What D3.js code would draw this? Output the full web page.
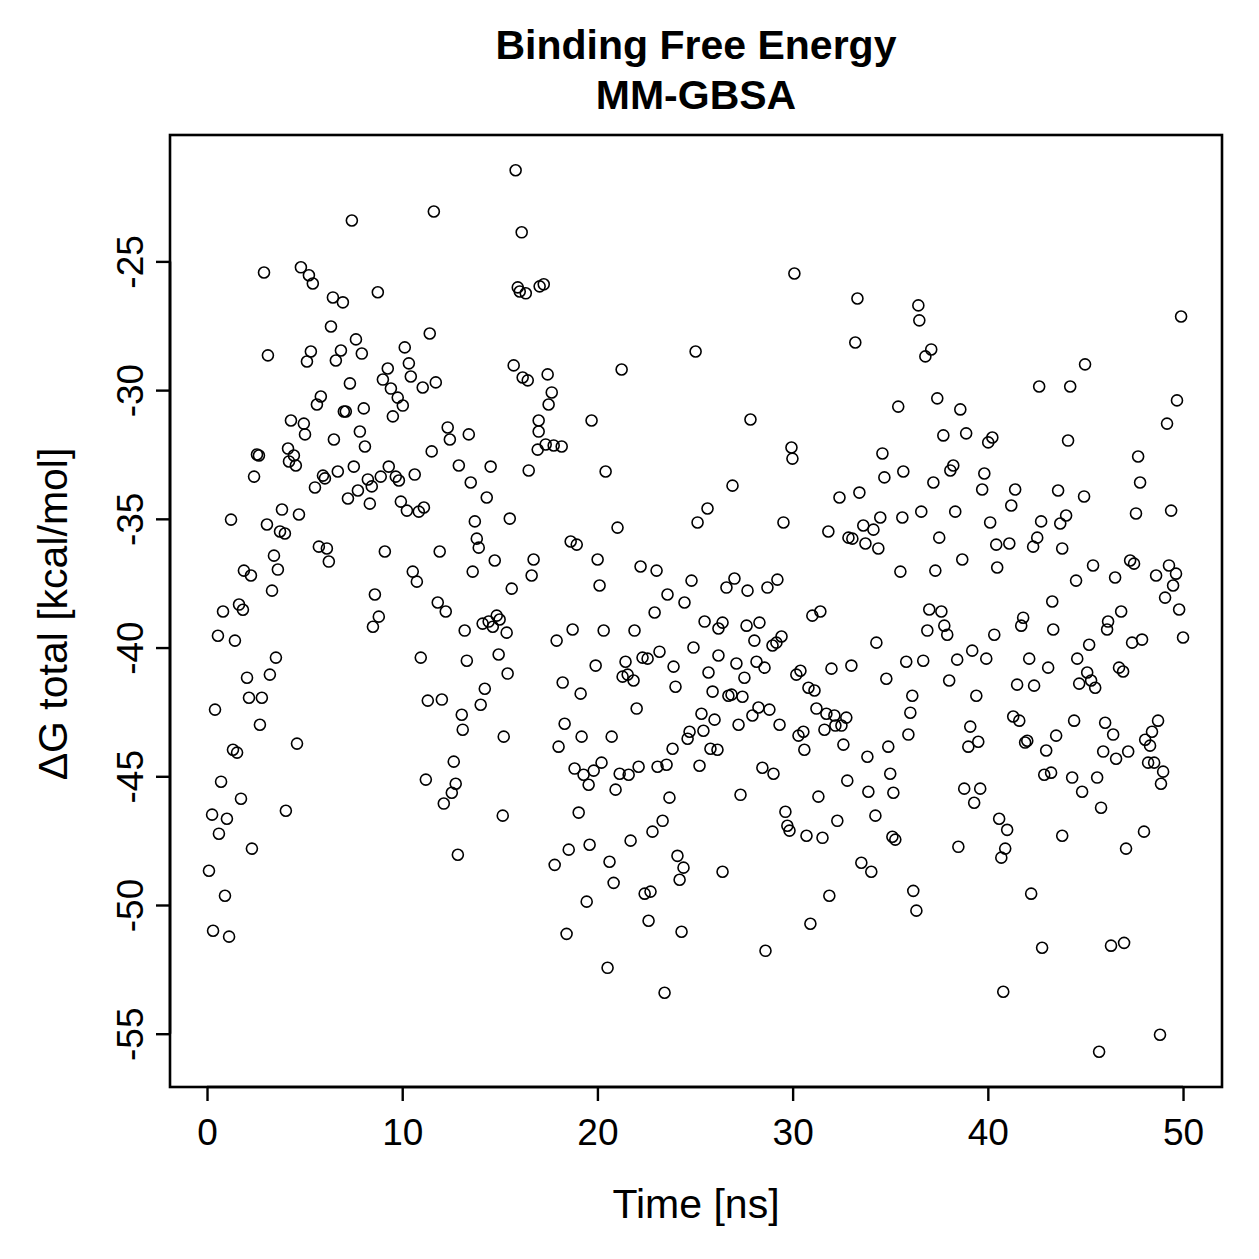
<!DOCTYPE html>
<html>
<head>
<meta charset="utf-8">
<script src="https://cdn.jsdelivr.net/npm/d3@7"></script>
<style>
html,body{margin:0;padding:0;background:#fff;}
svg text{font-family:"Liberation Sans",Arial,Helvetica,sans-serif;fill:#000;}
</style>
</head>
<body>
<svg id="chart" width="1259" height="1259"></svg>
<script>
// ---- data ----
const timeNs = [
  // 0 - 9 ns
  7.42,2.92,4.81,5.22,5.42,6.45,6.96,6.35,7.63,7.93,
  3.12,5.32,5.12,6.86,6.60,7.32,5.83,5.63,7.01,7.11,
  8.03,4.30,4.96,5.02,6.50,7.83,8.09,2.56,2.66,4.15,
  4.45,4.20,4.55,2.41,5.94,6.04,5.53,6.70,7.52,7.73,
  7.22,8.24,8.44,8.34,1.23,3.84,4.71,3.07,3.74,3.99,
  5.73,6.14,6.24,3.43,3.63,1.89,2.25,3.33,0.82,1.64,
  1.84,8.60,0.56,1.43,8.50,8.80,3.53,2.05,3.22,2.15,
  2.81,0.41,2.71,4.61,1.33,1.54,0.72,1.74,0.26,1.02,
  4.04,0.61,2.30,0.10,0.92,0.31,1.13,
  // 9 - 18 ns
  15.81,11.62,16.12,8.75,15.92,16.02,16.33,17.04,17.25,11.41,
  10.13,9.26,9.01,10.34,10.44,9.42,9.77,10.03,9.52,11.05,
  11.72,15.71,16.17,16.43,17.45,17.66,17.50,12.33,12.44,13.41,
  16.99,16.99,16.94,17.35,17.76,18.17,11.51,12.90,13.51,14.53,
  14.33,16.48,8.90,9.31,9.67,9.83,10.64,9.93,10.24,10.85,
  11.11,15.51,13.72,13.82,13.92,14.74,9.11,11.92,16.73,16.63,
  10.54,10.75,13.61,15.61,11.82,12.23,13.20,14.12,14.43,14.84,
  14.99,14.64,15.35,10.95,13.31,14.94,15.40,14.23,11.31,12.03,
  14.02,13.05,13.10,15.20,12.64,11.21,12.74,12.54,12.13,15.15,
  12.85,
  // 18 - 26 ns
  25.03,21.24,19.70,20.42,25.64,25.13,21.03,18.63,18.94,20.01,
  22.21,23.03,24.82,20.11,23.59,24.46,22.93,25.49,26.20,17.91,
  18.73,20.32,21.90,23.18,24.92,26.20,19.91,21.44,22.31,22.57,
  23.90,25.69,21.29,21.55,21.85,24.00,25.90,18.22,19.14,22.01,
  25.33,26.00,18.32,19.19,20.73,18.01,24.72,24.62,25.43,23.85,
  25.79,26.15,18.83,19.29,19.81,20.21,19.55,21.14,21.60,22.11,
  23.08,23.54,25.23,20.93,23.69,19.04,23.34,22.82,21.70,19.60,
  18.53,17.81,20.62,24.10,24.41,24.21,26.41,20.83,22.42,22.72,
  19.45,22.62,24.31,18.42,20.52,23.44,
  // 26 - 35 ns
  30.09,33.32,33.21,27.84,29.94,29.99,34.60,34.70,26.92,32.40,
  33.42,29.53,31.83,32.86,33.06,33.62,34.14,34.49,33.73,34.39,
  27.02,26.61,27.69,28.71,29.22,31.42,31.01,26.41,27.64,28.30,
  28.04,28.97,29.17,29.43,34.29,27.12,28.15,28.56,27.53,30.19,
  30.40,31.99,33.01,34.80,26.71,26.87,27.43,30.81,31.12,28.25,
  27.94,28.81,27.23,29.33,31.22,31.73,32.14,32.75,32.19,32.50,
  30.30,30.55,31.63,30.60,32.60,33.83,34.90,28.45,29.02,32.80,
  35.00,27.33,31.32,33.88,35.16,29.63,29.73,29.84,30.71,31.53,
  32.29,34.24,35.11,35.26,33.52,34.03,31.88,30.91,28.61,
  // 35 - 44 ns
  36.44,36.49,37.10,36.80,42.63,35.41,37.41,38.59,37.72,38.89,
  40.23,40.02,35.67,37.21,38.23,38.08,39.82,39.71,41.40,43.60,
  41.20,36.59,38.33,35.62,40.12,42.73,43.71,37.51,40.43,41.10,
  42.53,42.32,43.81,38.69,40.48,35.52,37.31,43.30,37.00,37.62,
  41.81,36.90,37.77,37.92,40.33,41.71,43.35,35.82,36.69,38.43,
  39.20,39.92,42.12,43.09,38.02,41.50,42.37,36.13,39.41,36.03,
  41.30,41.61,39.10,35.93,39.51,39.00,41.91,42.02,43.50,42.99,
  42.89,43.24,38.79,39.61,39.30,40.58,40.99,40.89,40.69,38.49,
  36.18,36.34,42.22,42.78,40.79,43.81,
  // 44 - 50 ns
  49.90,44.98,44.22,49.69,49.18,44.11,47.70,47.80,44.93,44.01,
  47.59,49.39,45.39,44.52,46.52,47.29,47.49,48.62,49.28,49.64,
  49.49,49.08,49.80,46.83,46.16,46.11,45.19,44.58,47.39,47.90,
  50.00,45.09,45.29,45.50,44.68,46.72,46.93,44.42,46.01,46.42,
  48.72,48.41,48.06,48.31,45.91,46.57,47.19,48.21,48.52,48.98,
  48.87,44.32,44.83,45.60,45.80,48.00,47.08,46.31,46.98,48.82,
  45.70
];
const dGTotal = [
  // 0 - 9 ns
  -23.41,-25.43,-25.23,-25.54,-25.86,-26.40,-26.59,-27.53,-28.03,-28.58,
  -28.65,-28.50,-28.89,-28.46,-28.85,-29.74,-30.25,-30.56,-30.83,-30.83,
  -30.71,-31.18,-31.30,-31.72,-31.92,-31.61,-32.19,-32.50,-32.54,-32.27,
  -32.54,-32.77,-32.93,-33.36,-33.32,-33.43,-33.78,-33.16,-32.97,-33.90,
  -34.21,-33.47,-33.74,-34.41,-35.03,-34.64,-34.83,-35.22,-35.49,-35.57,
  -36.08,-36.15,-36.66,-36.43,-36.97,-37.01,-37.20,-37.79,-38.60,-38.33,
  -38.53,-37.94,-39.54,-39.73,-39.19,-38.80,-40.39,-41.17,-41.05,-41.95,
  -41.95,-42.41,-43.00,-43.73,-43.97,-44.08,-45.21,-45.87,-46.49,-46.65,
  -46.34,-47.23,-47.81,-48.67,-49.64,-51.00,-51.23,
  // 9 - 18 ns
  -21.46,-23.06,-23.87,-26.20,-26.01,-26.17,-26.24,-25.97,-25.89,-27.80,
  -28.34,-29.16,-29.59,-28.96,-29.47,-29.94,-30.29,-30.60,-31.02,-29.90,
  -29.70,-29.04,-29.51,-29.62,-29.39,-30.09,-30.56,-31.45,-31.92,-31.72,
  -31.18,-31.61,-32.31,-32.11,-32.15,-32.19,-32.38,-32.93,-33.59,-32.97,
  -34.17,-33.12,-33.36,-32.97,-33.36,-33.51,-33.28,-34.33,-34.68,-34.72,
  -34.56,-34.99,-35.10,-35.77,-36.12,-36.62,-36.27,-36.27,-36.58,-37.20,
  -37.05,-37.44,-37.05,-37.71,-38.25,-38.60,-39.34,-39.07,-38.99,-38.76,
  -38.91,-39.19,-39.42,-40.39,-40.51,-40.27,-41.01,-41.60,-42.06,-42.02,
  -42.22,-42.61,-43.19,-43.46,-44.43,-45.13,-45.29,-45.64,-46.06,-46.53,
  -48.05,
  // 18 - 26 ns
  -28.50,-29.20,-31.18,-33.16,-34.60,-35.14,-35.34,-35.88,-36.00,-36.58,
  -36.85,-37.01,-37.40,-37.59,-37.94,-38.25,-38.64,-38.99,-39.26,-39.73,
  -39.30,-39.34,-39.34,-40.16,-40.00,-40.31,-40.70,-40.55,-40.39,-40.43,
  -40.74,-40.97,-41.13,-41.05,-41.28,-41.52,-41.71,-41.36,-41.79,-42.37,
  -42.57,-42.80,-42.96,-43.46,-43.46,-43.85,-43.27,-43.54,-43.23,-43.93,
  -43.93,-43.97,-44.70,-44.94,-44.78,-44.47,-45.33,-44.90,-44.94,-44.63,
  -44.63,-44.55,-44.59,-45.52,-45.83,-46.41,-46.73,-47.15,-47.50,-47.66,
  -47.85,-48.44,-48.32,-48.09,-48.55,-49.02,-48.71,-49.14,-49.56,-49.48,
  -49.87,-50.61,-51.04,-51.12,-52.44,-53.41,
  // 26 - 35 ns
  -25.47,-26.44,-28.15,-31.14,-32.23,-32.66,-32.46,-33.39,-33.71,-34.17,
  -33.98,-35.14,-35.49,-35.73,-35.77,-35.26,-35.42,-34.95,-35.96,-36.15,
  -37.32,-37.67,-37.79,-37.67,-37.36,-38.60,-38.76,-39.03,-39.15,-39.03,
  -39.73,-39.92,-39.81,-39.57,-39.81,-40.62,-40.55,-40.78,-41.17,-41.05,
  -40.90,-40.82,-40.70,-41.21,-41.87,-41.83,-41.91,-41.56,-41.67,-42.33,
  -42.64,-42.41,-43.00,-43.00,-42.37,-42.57,-42.64,-42.72,-43.03,-43.03,
  -43.42,-43.27,-43.19,-43.97,-43.77,-44.24,-43.85,-44.67,-44.90,-45.17,
  -44.90,-45.72,-45.79,-45.60,-45.64,-46.38,-46.92,-47.11,-47.31,-47.39,
  -46.73,-46.53,-47.35,-47.46,-48.36,-48.71,-49.64,-50.73,-51.78,
  // 35 - 44 ns
  -26.71,-27.29,-28.42,-28.69,-29.86,-30.64,-30.32,-30.75,-31.76,-31.68,
  -31.84,-32.03,-33.16,-33.59,-32.93,-33.12,-33.24,-33.86,-33.86,-33.90,
  -34.48,-34.72,-34.72,-34.95,-35.14,-35.10,-35.18,-35.73,-36.00,-35.96,
  -35.73,-36.08,-36.15,-36.58,-36.89,-37.05,-37.01,-38.21,-38.52,-38.60,
  -38.84,-39.34,-39.15,-39.50,-39.50,-39.15,-39.30,-40.55,-40.51,-40.47,
  -40.12,-40.43,-40.43,-40.78,-41.28,-41.44,-41.48,-41.87,-41.87,-42.53,
  -42.68,-42.84,-43.07,-43.38,-43.66,-43.85,-43.69,-43.62,-43.42,-44.00,
  -44.94,-44.86,-45.48,-45.48,-46.03,-46.65,-47.08,-47.81,-48.16,-47.74,
  -49.45,-50.22,-49.56,-51.66,-53.37,-47.31,
  // 44 - 50 ns
  -27.14,-29.00,-29.86,-30.40,-31.30,-31.96,-32.58,-33.59,-34.13,-34.87,
  -34.79,-34.68,-36.81,-37.40,-37.28,-36.62,-36.74,-37.20,-36.81,-37.13,
  -37.59,-38.06,-38.52,-38.60,-38.99,-39.30,-39.89,-40.43,-39.81,-39.69,
  -39.61,-40.97,-41.28,-41.56,-41.40,-40.78,-40.93,-42.84,-42.92,-43.38,
  -42.84,-43.27,-43.58,-43.81,-44.04,-44.32,-44.04,-44.47,-44.47,-44.82,
  -45.29,-45.05,-45.60,-45.05,-46.22,-47.15,-47.81,-51.58,-51.47,-55.04,
  -55.70
];
const xTicks = [0, 10, 20, 30, 40, 50];
const yTicks = [-55, -50, -45, -40, -35, -30, -25];
const titleLines = ["Binding Free Energy", "MM-GBSA"];
const xLabel = "Time [ns]";
const yLabel = "\u0394G total [kcal/mol]";

// ---- layout ----
const box = {left: 170, right: 1222, top: 135, bottom: 1087};
const svg = d3.select("#chart");

// R-style 4% padded ranges
const xRange = d3.extent(timeNs), yRange = d3.extent(dGTotal);
const xPad = (xRange[1] - xRange[0]) * 0.04, yPad = (yRange[1] - yRange[0]) * 0.04;
const x = d3.scaleLinear().domain([xRange[0] - xPad, xRange[1] + xPad]).range([box.left, box.right]);
const y = d3.scaleLinear().domain([yRange[0] - yPad, yRange[1] + yPad]).range([box.bottom, box.top]);

// points
const pts = d3.range(timeNs.length).map(i => ({t: timeNs[i], g: dGTotal[i]}));
svg.append("g").selectAll("circle").data(pts).join("circle")
  .attr("cx", d => x(d.t)).attr("cy", d => y(d.g)).attr("r", 5.5)
  .attr("fill", "none").attr("stroke", "#000").attr("stroke-width", 1.6);

// box
svg.append("rect").attr("x", box.left).attr("y", box.top)
  .attr("width", box.right - box.left).attr("height", box.bottom - box.top)
  .attr("fill", "none").attr("stroke", "#000").attr("stroke-width", 2.6);

const plainFmt = d => String(d); // hyphen-minus like R

// x axis
const gx = svg.append("g").attr("transform", `translate(0,${box.bottom})`)
  .call(d3.axisBottom(x).tickValues(xTicks).tickSize(14).tickPadding(18).tickFormat(plainFmt));
gx.select(".domain").remove();
gx.selectAll(".tick line").attr("stroke-width", 2.4);
gx.selectAll(".tick text").attr("font-size", 37).attr("font-family", "Liberation Sans, Arial, sans-serif");
gx.append("line").attr("x1", x(xTicks[0])).attr("x2", x(xTicks[xTicks.length-1]))
  .attr("y1", 0).attr("y2", 0).attr("stroke", "#000").attr("stroke-width", 2.6);

// y axis
const gy = svg.append("g").attr("transform", `translate(${box.left},0)`)
  .call(d3.axisLeft(y).tickValues(yTicks).tickSize(14).tickFormat(plainFmt));
gy.select(".domain").remove();
gy.selectAll(".tick line").attr("stroke-width", 2.4);
gy.selectAll(".tick text")
  .attr("font-size", 37).attr("font-family", "Liberation Sans, Arial, sans-serif")
  .attr("text-anchor", "middle").attr("x", null).attr("dy", null)
  .attr("transform", "translate(-27,0) rotate(-90)");
gy.append("line").attr("y1", y(yTicks[0])).attr("y2", y(yTicks[yTicks.length-1]))
  .attr("x1", 0).attr("x2", 0).attr("stroke", "#000").attr("stroke-width", 2.6);

// labels
const cx = (box.left + box.right) / 2;
svg.append("text").attr("x", cx).attr("y", 1218).attr("text-anchor", "middle")
  .attr("font-size", 41).text(xLabel);
svg.append("text").attr("transform", `translate(67,${(box.top + box.bottom)/2 + 3}) rotate(-90)`)
  .attr("text-anchor", "middle").attr("font-size", 41).text(yLabel);

// title
svg.selectAll("text.title").data(titleLines).join("text").attr("class", "title")
  .attr("x", cx).attr("y", (d, i) => 59 + i * 50).attr("text-anchor", "middle")
  .attr("font-size", 41).attr("font-weight", "bold").text(d => d);
</script>
</body>
</html>
